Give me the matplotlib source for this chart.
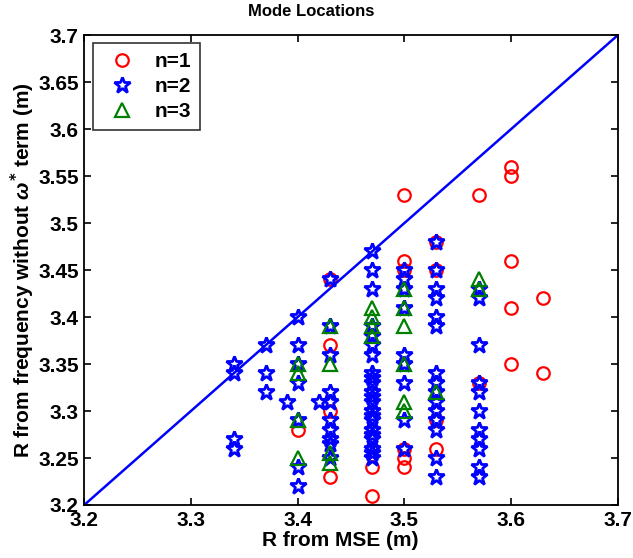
import numpy as np
import matplotlib.pyplot as plt

plt.rcParams['font.family'] = ['Liberation Sans', 'DejaVu Sans']
plt.rcParams['font.weight'] = 'bold'
plt.rcParams['mathtext.fontset'] = 'custom'
plt.rcParams['mathtext.it'] = 'Liberation Sans:italic:bold'

# n=1 modes
n1_x = [3.40,
        3.43, 3.43, 3.43, 3.43,
        3.47, 3.47,
        3.50, 3.50, 3.50, 3.50, 3.50, 3.50,
        3.53, 3.53, 3.53, 3.53,
        3.57, 3.57,
        3.60, 3.60, 3.60, 3.60, 3.60,
        3.63, 3.63]
n1_y = [3.28,
        3.44, 3.37, 3.30, 3.23,
        3.24, 3.21,
        3.53, 3.46, 3.45, 3.26, 3.25, 3.24,
        3.48, 3.45, 3.29, 3.26,
        3.53, 3.33,
        3.56, 3.55, 3.46, 3.41, 3.35,
        3.42, 3.34]

# n=2 modes, one list per MSE radius
n2_cols = {
    3.34: [3.35, 3.34, 3.27, 3.26],
    3.37: [3.37, 3.34, 3.32],
    3.39: [3.31],
    3.40: [3.40, 3.37, 3.35, 3.33, 3.29, 3.24, 3.22],
    3.42: [3.31],
    3.43: [3.44, 3.39, 3.36, 3.32, 3.31, 3.29, 3.28, 3.27, 3.265, 3.25],
    3.47: [3.47, 3.45, 3.43, 3.39, 3.38, 3.37, 3.36, 3.34, 3.335, 3.33,
           3.32, 3.315, 3.31, 3.30, 3.295, 3.29, 3.28, 3.275, 3.27, 3.26,
           3.255, 3.25],
    3.50: [3.45, 3.44, 3.43, 3.41, 3.36, 3.35, 3.33, 3.29, 3.26],
    3.53: [3.48, 3.45, 3.43, 3.42, 3.40, 3.39, 3.34, 3.33, 3.32, 3.31,
           3.30, 3.29, 3.28, 3.25, 3.23],
    3.57: [3.43, 3.42, 3.37, 3.33, 3.32, 3.30, 3.28, 3.27, 3.26, 3.24, 3.23],
}

# n=3 modes
n3_cols = {
    3.40: [3.35, 3.34, 3.29, 3.25],
    3.43: [3.39, 3.35, 3.255, 3.245],
    3.47: [3.41, 3.40, 3.39, 3.38],
    3.50: [3.43, 3.41, 3.39, 3.35, 3.31, 3.30],
    3.53: [3.32],
    3.57: [3.44, 3.43],
}


def flatten(cols):
    xs, ys = [], []
    for x, col in cols.items():
        xs += [x] * len(col)
        ys += col
    return np.array(xs), np.array(ys)


n2_x, n2_y = flatten(n2_cols)
n3_x, n3_y = flatten(n3_cols)

fig = plt.figure(figsize=(6.33, 5.58), dpi=100)
ax = fig.add_axes([0.133, 0.095, 0.843, 0.842])

ax.plot(n1_x, n1_y, 'o', mfc='none', mec='red', ms=9, mew=1.6, label='n=1')
ax.plot(n2_x, n2_y, '*', mfc='none', mec='blue', ms=12, mew=2.0, label='n=2')
ax.plot(n3_x, n3_y, '^', mfc='none', mec='green', ms=10, mew=1.6, label='n=3')
ax.plot([3.2, 3.7], [3.2, 3.7], '-', color='blue', lw=1.8)

ax.set_xlim(3.2, 3.7)
ax.set_ylim(3.2, 3.7)
ax.set_xticks(np.arange(3.2, 3.71, 0.1))
ax.set_yticks(np.arange(3.2, 3.71, 0.05))
ax.set_xticklabels(['3.2', '3.3', '3.4', '3.5', '3.6', '3.7'])
ax.set_yticklabels(['3.2', '3.25', '3.3', '3.35', '3.4', '3.45',
                    '3.5', '3.55', '3.6', '3.65', '3.7'])
ax.tick_params(direction='in', top=True, right=True, labelsize=15,
               length=5, width=1.2, pad=4)
for s in ax.spines.values():
    s.set_linewidth(1.3)

fig.text(311 / 633, 1 - 12 / 558, 'Mode Locations', fontsize=12,
         fontweight='bold', ha='center', va='center')
ax.set_xlabel('R from MSE (m)', fontsize=15, fontweight='bold', labelpad=4)
ax.xaxis.set_label_coords(0.48, -0.055)
ax.set_ylabel(r'R from frequency without $\omega^{*}$ term (m)', fontsize=15,
              fontweight='bold', labelpad=1)

leg = ax.legend(loc='upper left', fontsize=15, frameon=True, fancybox=False,
                edgecolor='black', borderaxespad=0.4, handletextpad=0.6,
                labelspacing=0.3, borderpad=0.4)
leg.get_frame().set_linewidth(1.2)

fig.savefig('out.png', dpi=100)
